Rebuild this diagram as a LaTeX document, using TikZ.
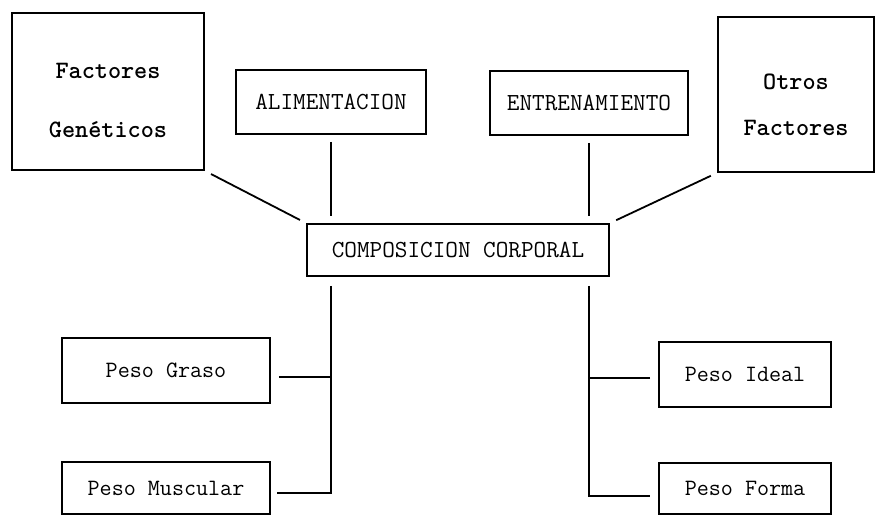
\documentclass[tikz,border=0pt]{standalone}
\begin{document}
\begin{tikzpicture}
[x=1pt,y=-1pt,line width=1.6pt,%
  every node/.style={shape=rectangle,draw,inner sep=0pt,align=center},%
  cajagrande/.style={font=\ttfamily\bfseries\fontsize{25}{30}\selectfont},%
  caja/.style={font=\ttfamily\fontsize{24.5}{29}\selectfont},%
  cajapeso/.style={font=\ttfamily\fontsize{23.4}{28}\selectfont},%
  enlace/.style={line width=1.8pt,shorten <=7pt,shorten >=7pt},%
  rama/.style={line width=1.8pt}]
\useasboundingbox (0,0) rectangle (876,515);
\node[cajagrande,minimum width=192pt,minimum height=157pt] (geneticos) at (108,91.5)
  {\rule{0pt}{33pt}Factores\\[29pt]Genéticos};
\node[caja,minimum width=190pt,minimum height=64pt] (alim) at (331,102) {ALIMENTACION};
\node[caja,minimum width=198pt,minimum height=64pt] (entr) at (589,103) {ENTRENAMIENTO};
\node[cajagrande,minimum width=156pt,minimum height=155pt] (otros) at (796,94.5)
  {\rule{0pt}{37pt}Otros\\[16pt]Factores};
\node[caja,minimum width=302pt,minimum height=52pt] (comp) at (458,250) {COMPOSICION CORPORAL};
\node[cajapeso,minimum width=208pt,minimum height=65pt] (graso) at (166,370.5) {Peso Graso};
\node[cajapeso,minimum width=208pt,minimum height=52pt] (musc) at (166,488) {Peso Muscular};
\node[cajapeso,minimum width=172pt,minimum height=65pt] (ideal) at (745,374.5) {Peso Ideal};
\node[cajapeso,minimum width=172pt,minimum height=51pt] (forma) at (745,488.5) {Peso Forma};
\draw[enlace] (geneticos.south east) -- (comp.north west);
\draw[enlace] (otros.south west) -- (comp.north east);
\draw[enlace] (alim.south) -- (alim.south |- comp.north);
\draw[enlace] (entr.south) -- (entr.south |- comp.north);
\draw[rama] (comp.south -| alim.south) ++(0,9) |- ([xshift=6pt,yshift=-5pt]musc.east);
\draw[rama] ([xshift=8pt,yshift=-6.5pt]graso.east) -- ([yshift=-6.5pt]graso.east -| alim.south);
\draw[rama] (comp.south -| entr.south) ++(0,9) |- ([xshift=-8pt,yshift=-7.5pt]forma.west);
\draw[rama] ([xshift=-8pt,yshift=-3.5pt]ideal.west) -- ([yshift=-3.5pt]ideal.west -| entr.south);
\end{tikzpicture}
\end{document}
